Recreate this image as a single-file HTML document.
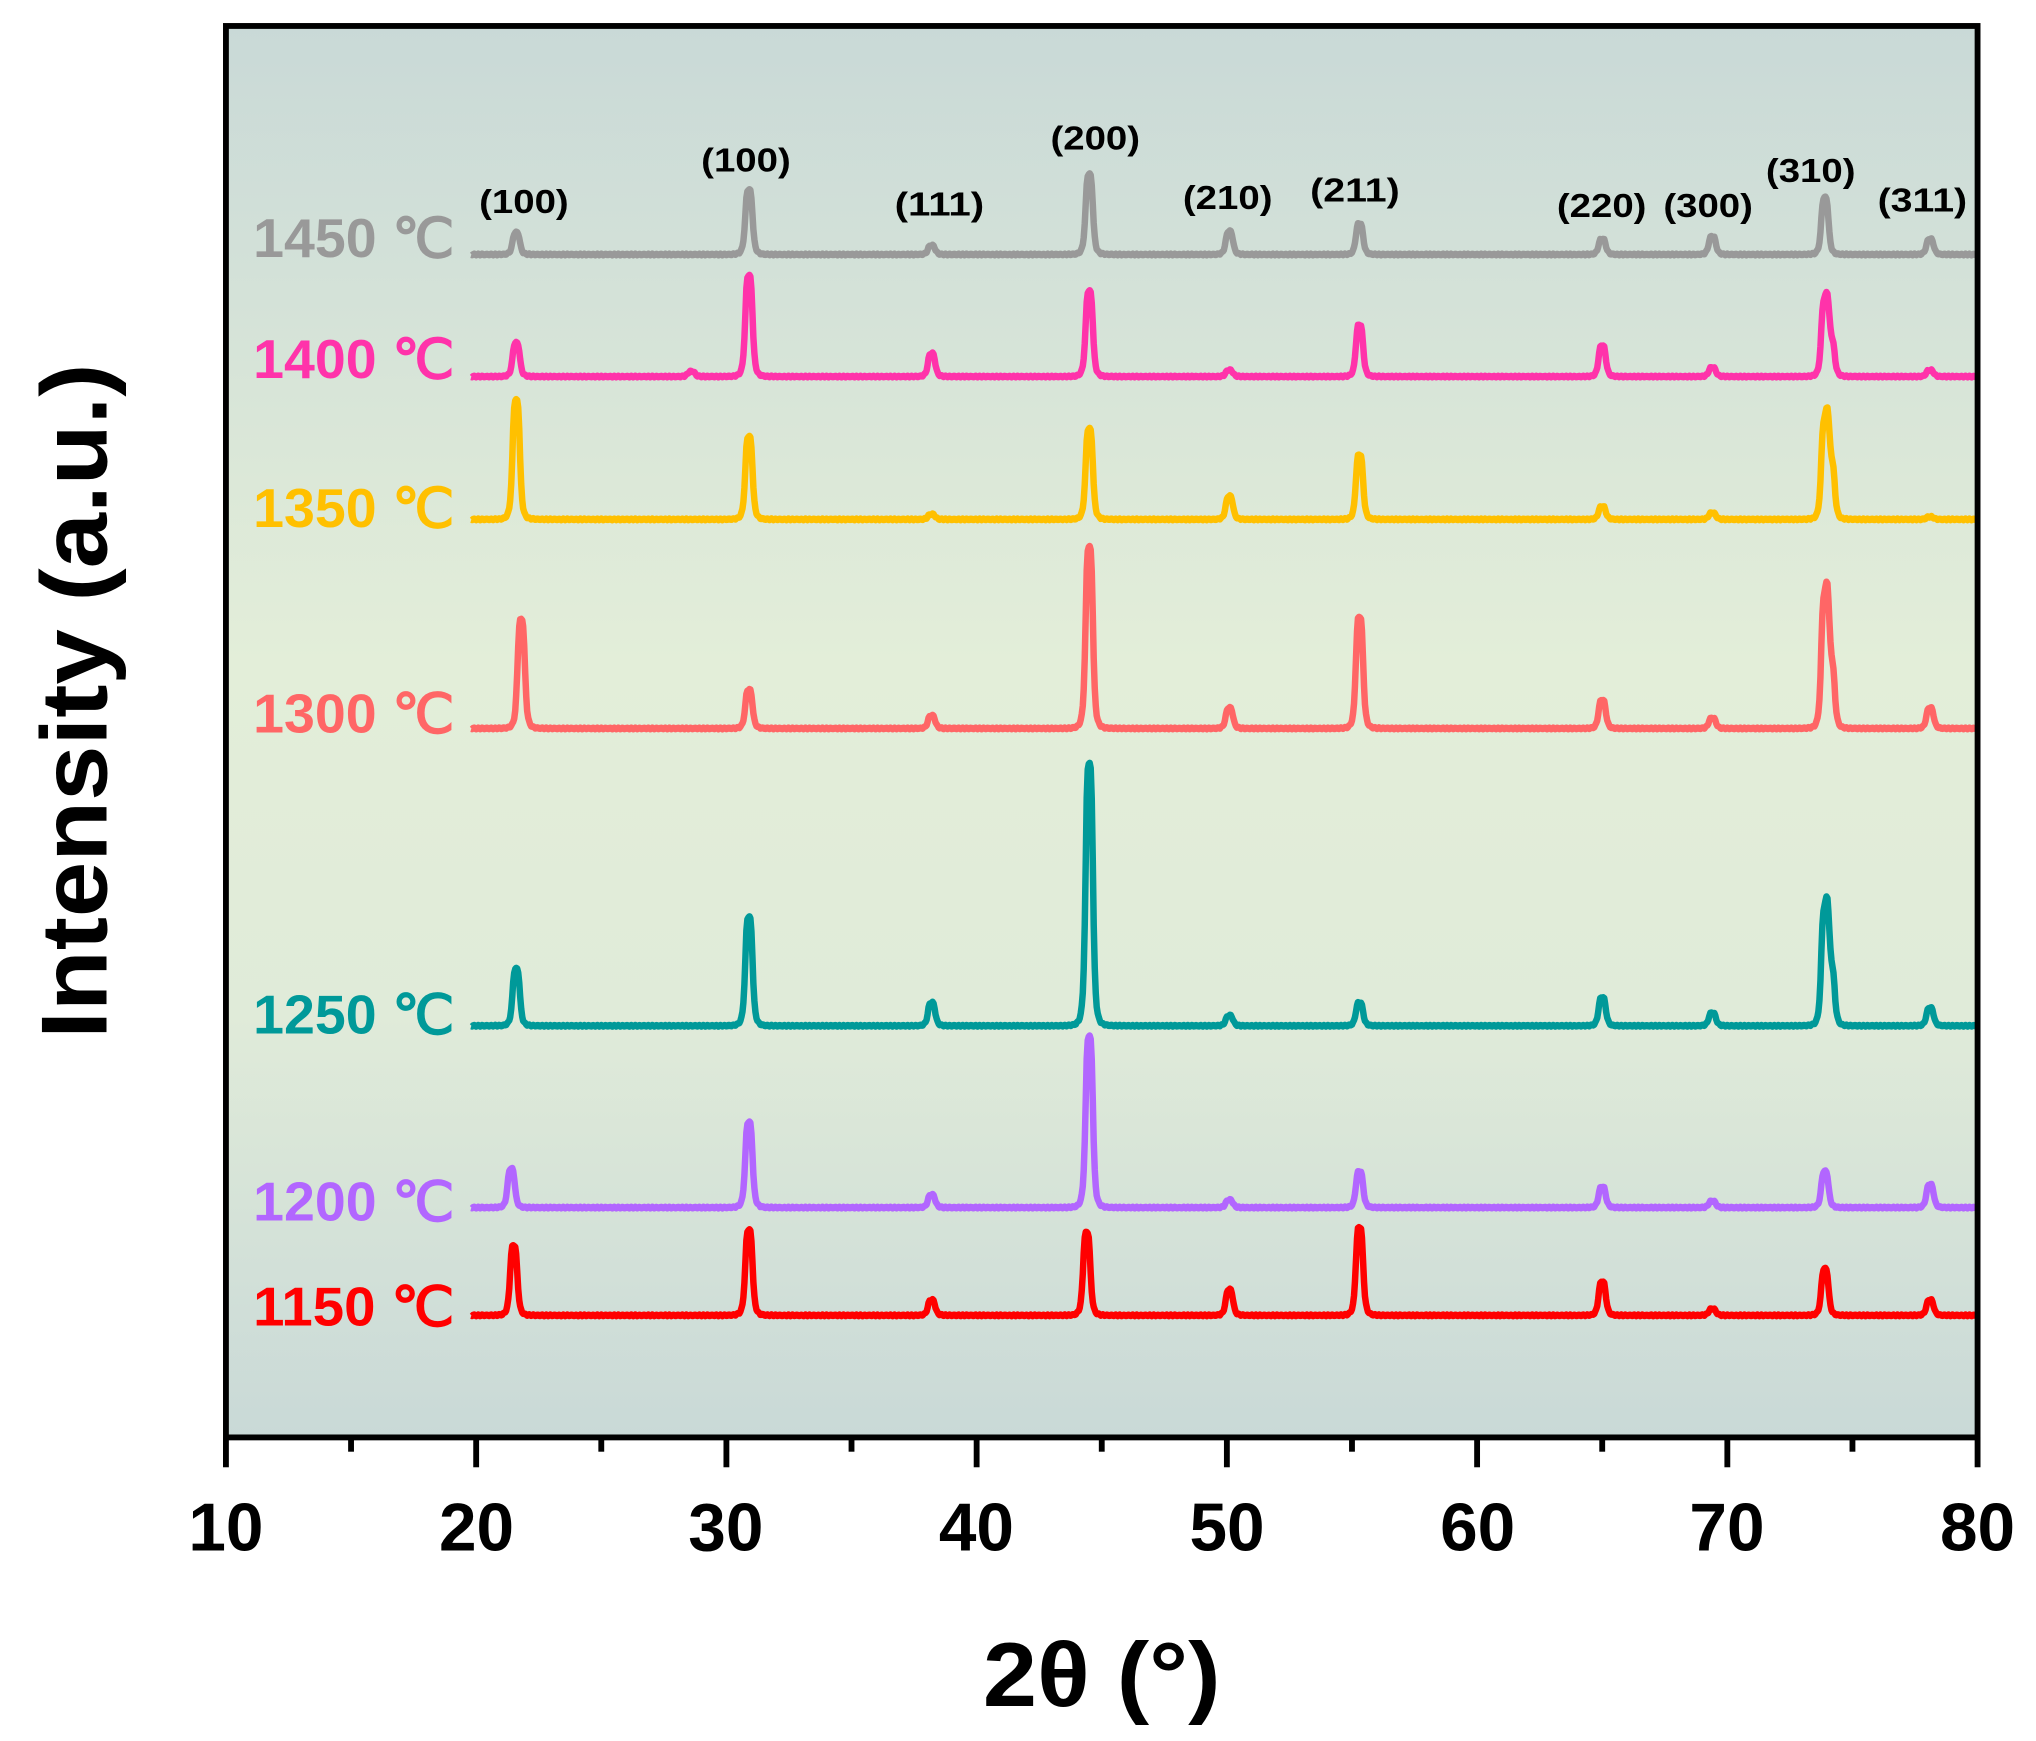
<!DOCTYPE html>
<html><head><meta charset="utf-8"><style>
html,body{margin:0;padding:0;background:#fff;}
svg{display:block;}
text{font-family:"Liberation Sans",Arial,sans-serif;font-weight:bold;}
</style></head><body>
<svg id="s" width="2036" height="1741" viewBox="0 0 1568 1340.8" preserveAspectRatio="none" xmlns="http://www.w3.org/2000/svg">
<defs><linearGradient id="bg" x1="0" y1="0" x2="0" y2="1">
<stop offset="0" stop-color="#c9d9d7"/><stop offset="0.45" stop-color="#e3eed9"/><stop offset="0.7" stop-color="#e0ebd9"/><stop offset="1" stop-color="#c9d9d7"/></linearGradient></defs>
<rect x="174" y="20" width="1349" height="1087" fill="url(#bg)"/>
<g id="series"></g>
<rect x="174" y="20" width="1349" height="1087" fill="none" stroke="#000" stroke-width="4.5"/>
<g id="ticks" stroke="#000" stroke-width="4.5"></g>
<g font-size="52" text-anchor="middle">
<text x="174" y="1194">10</text><text x="367" y="1194">20</text><text x="559" y="1194">30</text><text x="752" y="1194">40</text><text x="945" y="1194">50</text><text x="1138" y="1194">60</text><text x="1330" y="1194">70</text><text x="1523" y="1194">80</text>
</g>
<text x="757" y="1314" font-size="70" textLength="183" lengthAdjust="spacingAndGlyphs">2θ (°)</text>
<text transform="translate(82,800) rotate(-90)" font-size="72" textLength="520" lengthAdjust="spacingAndGlyphs">Intensity (a.u.)</text>
<g font-size="26" id="hkl"></g>
<g font-size="42" id="labels"></g>
</svg>
<script>
var X=function(v){return 174+(v-10)*1349/70;};
var ns="http://www.w3.org/2000/svg";
var T=document.getElementById('ticks');
for(var v=10;v<=80;v+=5){var l=document.createElementNS(ns,'line');l.setAttribute('x1',X(v));l.setAttribute('x2',X(v));l.setAttribute('y1',1107);l.setAttribute('y2',v%10?1118:1130);T.appendChild(l);}
var H=[[369,164,"(100)"],[540,132,"(100)"],[689,166,"(111)"],[809,115,"(200)"],[911,161,"(210)"],[1009,155,"(211)"],[1199,167,"(220)"],[1281,167,"(300)"],[1360,140,"(310)"],[1446,163,"(311)"]];
var HG=document.getElementById('hkl');
H.forEach(function(h){var t=document.createElementNS(ns,'text');t.setAttribute('x',h[0]);t.setAttribute('y',h[1]);t.setAttribute('textLength',69);t.setAttribute('lengthAdjust','spacingAndGlyphs');t.textContent=h[2];HG.appendChild(t);});
var S=[
["#999999",196,"1450 ℃",183,[[21.6,17],[30.9,50],[38.2,7],[44.5,62],[50.1,18],[55.3,24],[65,12],[69.4,14],[73.9,44],[78.1,12]]],
["#ff33aa",290,"1400 ℃",276,[[21.6,26],[28.6,4],[30.9,78],[38.2,18],[44.5,66],[50.1,5],[55.3,40],[65,24],[69.4,7],[73.9,58],[74.15,25],[78.1,5]]],
["#ffc000",400,"1350 ℃",391,[[21.6,92],[30.9,64],[38.2,4],[44.5,70],[50.1,18],[55.3,50],[65,10],[69.4,5],[73.9,74],[74.15,40],[78.1,2]]],
["#ff6666",561,"1300 ℃",549,[[21.8,84],[30.9,30],[38.2,10],[44.5,140],[50.1,16],[55.3,86],[65,22],[69.4,8],[73.9,100],[74.15,45],[78.1,16]]],
["#009999",790,"1250 ℃",781,[[21.6,44],[30.9,84],[38.2,18],[44.5,202],[50.1,8],[55.3,18],[65,22],[69.4,10],[73.9,88],[74.15,40],[78.1,14]]],
["#b266ff",930,"1200 ℃",925,[[21.4,30],[30.9,66],[38.2,10],[44.5,132],[50.1,6],[55.3,28],[65,16],[69.4,5],[73.9,28],[78.1,18]]],
["#ff0000",1013,"1150 ℃",1006,[[21.5,54],[30.9,66],[38.2,12],[44.4,64],[50.1,20],[55.3,68],[65,26],[69.4,5],[73.9,36],[78.1,12]]]];
var G=document.getElementById('series'),L=document.getElementById('labels');
S.forEach(function(s){
 var d="";for(var t=19.8;t<=80.001;t+=0.04){var y=0;s[4].forEach(function(p){var w=0.16;var u=(t-p[0])/w;y+=p[1]/(1+u*u*u*u);});
 y+=Math.sin(t*37)*0.6;d+=(d?"L":"M")+X(t).toFixed(1)+","+(s[1]-y).toFixed(1);}
 var p=document.createElementNS(ns,'path');p.setAttribute('d',d);p.setAttribute('fill','none');p.setAttribute('stroke',s[0]);p.setAttribute('stroke-width','5');p.setAttribute('stroke-linejoin','round');G.appendChild(p);
 var tx=document.createElementNS(ns,'text');tx.setAttribute('x',195);tx.setAttribute('y',s[3]+15);tx.setAttribute('fill',s[0]);tx.setAttribute('textLength',155);tx.setAttribute('lengthAdjust','spacingAndGlyphs');tx.textContent=s[2];L.appendChild(tx);
});
</script>
</body></html>
